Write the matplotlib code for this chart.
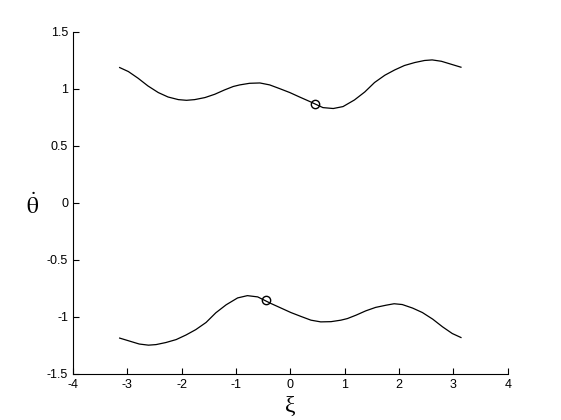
import matplotlib
matplotlib.use('Agg')
import matplotlib.pyplot as plt

plt.rcParams['font.family'] = ['Liberation Sans', 'DejaVu Sans']
plt.rcParams['axes.unicode_minus'] = False
plt.rcParams['mathtext.fontset'] = 'stix'

# branch curves
XI = [-3.14, -2.98, -2.80, -2.62, -2.43, -2.25, -2.06, -1.91, -1.76, -1.57, -1.39, -1.21,
      -1.05, -0.93, -0.75, -0.56, -0.38, -0.20, -0.01, 0.17, 0.36, 0.60, 0.79, 0.97,
      1.18, 1.37, 1.55, 1.74, 1.92, 2.10, 2.29, 2.47, 2.61, 2.78, 2.96, 3.14]
UPPER = [1.184, 1.149, 1.09, 1.023, 0.965, 0.926, 0.903, 0.897, 0.903, 0.921, 0.95, 0.988,
         1.018, 1.032, 1.046, 1.049, 1.032, 1.0, 0.965, 0.926, 0.886, 0.833, 0.825, 0.842,
         0.90, 0.97, 1.053, 1.117, 1.163, 1.202, 1.228, 1.246, 1.251, 1.239, 1.213, 1.187]
XI_LOW = [-3.14, -2.96, -2.78, -2.61, -2.47, -2.29, -2.10, -1.92, -1.74, -1.55, -1.37, -1.18,
          -0.97, -0.79, -0.60, -0.36, -0.17, 0.01, 0.20, 0.38, 0.56, 0.75, 0.93, 1.05,
          1.21, 1.39, 1.57, 1.76, 1.91, 2.06, 2.25, 2.43, 2.62, 2.80, 2.98, 3.14]
LOWER = [-1.187, -1.213, -1.239, -1.249, -1.244, -1.226, -1.20, -1.16, -1.113, -1.05, -0.965,
         -0.895, -0.835, -0.815, -0.826, -0.883, -0.924, -0.963, -0.998, -1.03, -1.045, -1.043,
         -1.03, -1.016, -0.986, -0.948, -0.918, -0.899, -0.886, -0.893, -0.924, -0.963, -1.021,
         -1.088, -1.147, -1.182]

# marked equilibrium points
MARK_XI = [0.449, -0.447]
MARK_Y = [0.862, -0.852]

XTICKS = [-4, -3, -2, -1, 0, 1, 2, 3, 4]
YTICKS = [-1.5, -1, -0.5, 0, 0.5, 1, 1.5]
YTICK_LABELS = ['-1.5', '-1', '-0.5', '0', '0.5', '1', '1.5']


def main():
    fig = plt.figure(figsize=(5.61, 4.2), dpi=100)
    ax = fig.add_axes([0.13, 0.11, 0.775, 0.815])

    ax.plot(XI, UPPER, color='black', linewidth=0.9)
    ax.plot(XI_LOW, LOWER, color='black', linewidth=0.9)
    ax.plot(MARK_XI, MARK_Y, linestyle='none', marker='o', markersize=6,
            markerfacecolor='none', markeredgecolor='black', markeredgewidth=1.0)

    ax.set_xlim(-4, 4)
    ax.set_ylim(-1.5, 1.5)
    ax.set_xticks(XTICKS)
    ax.set_xticklabels([str(t) for t in XTICKS])
    ax.set_yticks(YTICKS)
    ax.set_yticklabels(YTICK_LABELS)
    ax.tick_params(direction='in', length=4, labelsize=9, width=0.8)
    for side in ['top', 'right']:
        ax.spines[side].set_visible(False)

    ax.set_xlabel('ξ', fontsize=17, family=['Liberation Serif', 'DejaVu Serif'], va='center')
    ax.xaxis.set_label_coords(0.499, -0.094)
    ax.set_ylabel(r'$\dot{\mathrm{\theta}}$', fontsize=17, rotation=0, ha='center', va='center')
    ax.yaxis.set_label_coords(-0.092, 0.49)

    fig.savefig('out.png', dpi=100)


if __name__ == "__main__":
    main()
